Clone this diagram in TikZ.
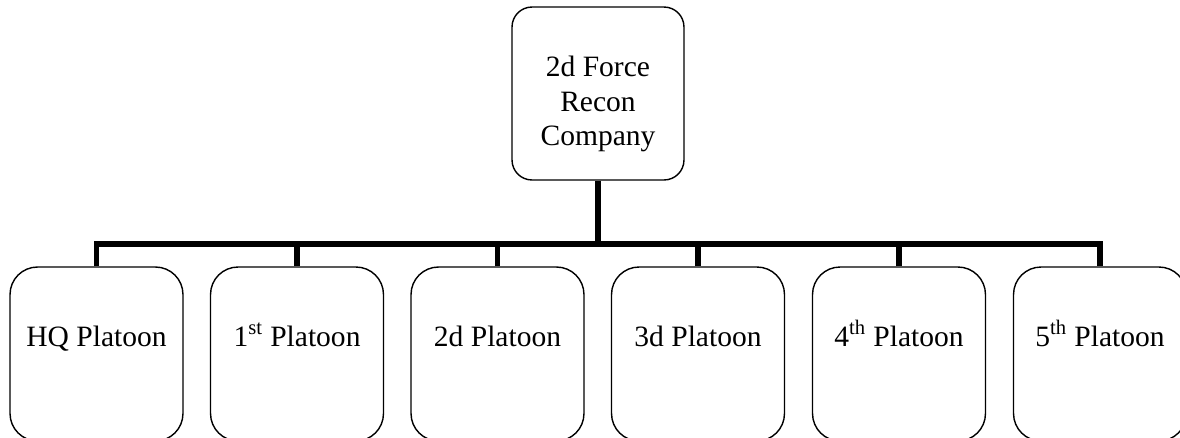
\documentclass[tikz,border=0pt]{standalone}
\usepackage{fontspec}
\setmainfont{Liberation Serif}
\usepackage{tikz}

\begin{document}
\begin{tikzpicture}[x=0.02cm,y=-0.02cm,inner sep=0pt]
\tikzstyle{every node}=[draw,line width=0.8pt,font=\fontsize{16.8}{19.6}\selectfont]
\tikzstyle{company}=[rounded corners=0.4cm,minimum width=3.44cm,minimum height=3.46cm,align=center,text height=2.28cm,text depth=0.2cm]
\tikzstyle{platoon}=[rounded corners=0.55cm,minimum width=3.46cm,minimum height=3.48cm,text height=0.35cm,text depth=0.67cm]
\tikzstyle{link}=[line width=3.2pt]
\useasboundingbox (0,0) rectangle (1180,437);
\node[company] (co) at (598,93.5) {2d Force\\Recon\\Company};
\node[platoon] (hq) at (96.5,354) {HQ Platoon};
\node[platoon] (p1) at (297,354) {1\textsuperscript{st} Platoon};
\node[platoon] (p2) at (497.5,354) {2d Platoon};
\node[platoon] (p3) at (698,354) {3d Platoon};
\node[platoon] (p4) at (899,354) {4\textsuperscript{th} Platoon};
\node[platoon] (p5) at (1100,354) {5\textsuperscript{th} Platoon};
% stem and bar
\draw[link] (co.south) -- ++(0,63) coordinate (bar);
\draw[link] (hq.north) |- (bar) -| (p5.north);
\foreach \n in {p1,p2,p3,p4}
	\draw[link] (\n.north) -- (\n.north |- bar);
\end{tikzpicture}
\end{document}
